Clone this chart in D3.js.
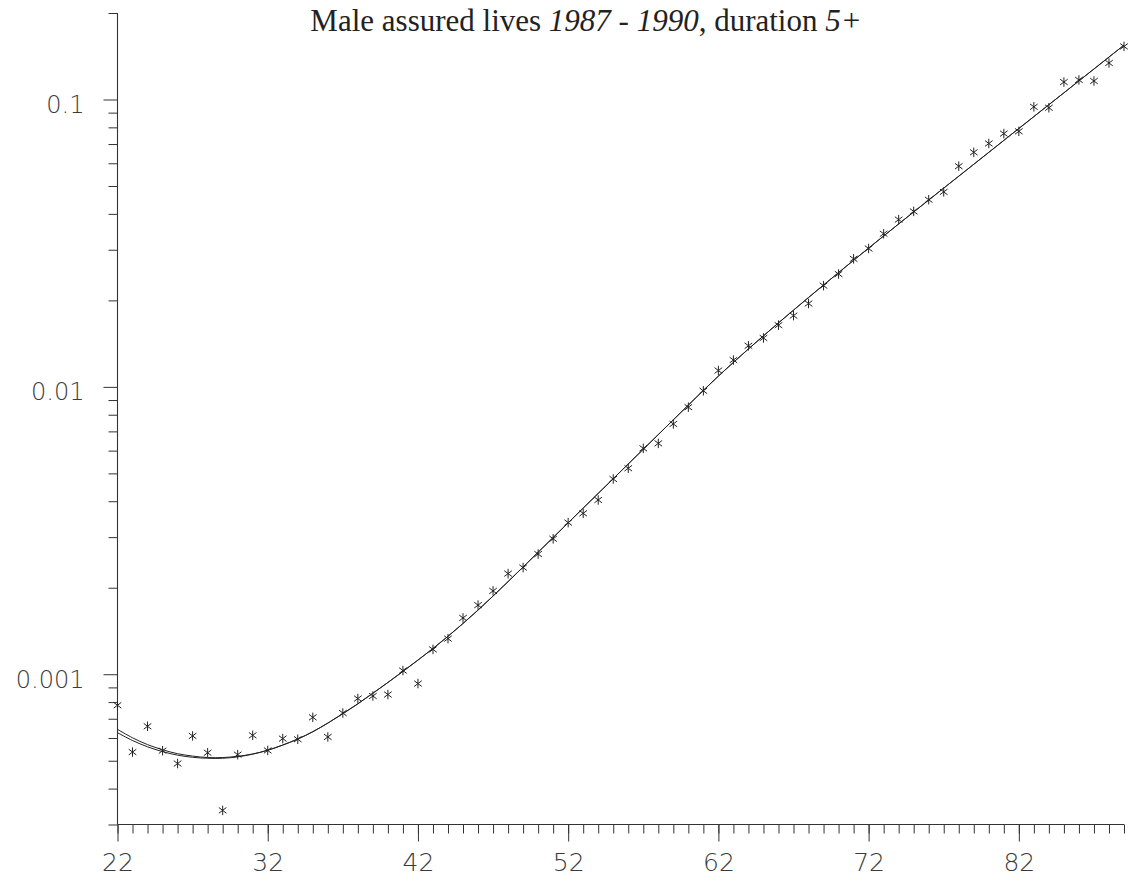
<!DOCTYPE html>
<html>
<head>
<meta charset="utf-8">
<script src="https://cdn.jsdelivr.net/npm/d3@7"></script>
<style>
  html, body { margin: 0; padding: 0; background: #fff; }
  svg { display: block; }
  .tick-label { font-family: "DejaVu Sans", sans-serif; font-weight: 200; fill: #3a3a3a; }
</style>
</head>
<body>
<svg id="chart" width="1136" height="881"></svg>
<script>
// Ages (x categories)
const ages = [22,23,24,25,26,27,28,29,30,31,32,33,34,35,36,37,38,39,40,41,42,43,44,45,46,47,48,49,50,51,52,53,54,55,56,57,58,59,60,61,62,63,64,65,66,67,68,69,70,71,72,73,74,75,76,77,78,79,80,81,82,83,84,85,86,87,88,89];

// Crude mortality rates (asterisks)
const crudeRates = [0.000780,0.000536,0.000659,0.000542,0.000489,0.000610,0.000533,0.000336,0.000525,0.000613,
  0.000543,0.000597,0.000594,0.000708,0.000605,0.000733,0.000823,0.000840,0.000850,0.00103,
  0.000928,0.00122,0.00133,0.00157,0.00174,0.00195,0.00224,0.00235,0.00262,0.00296,
  0.00337,0.00363,0.00404,0.00478,0.00521,0.00611,0.00636,0.00743,0.00850,0.00969,
  0.0114,0.0124,0.0139,0.0148,0.0164,0.0177,0.0195,0.0225,0.0247,0.0279,
  0.0303,0.0341,0.0382,0.0408,0.0448,0.0477,0.0586,0.0655,0.0703,0.0761,
  0.0775,0.0943,0.0936,0.115,0.117,0.116,0.134,0.153];

// Graduated rates, first fit
const graduatedA = [0.000643,0.000601,0.000569,0.000546,0.000529,0.000519,0.000513,0.000513,0.000518,0.000528,
  0.000544,0.000567,0.000595,0.000631,0.000676,0.000729,0.000789,0.000859,0.000936,0.001023,
  0.001120,0.001229,0.001355,0.001502,0.001672,0.001871,0.002101,0.002361,0.002658,0.002991,
  0.003364,0.003785,0.004259,0.004792,0.005391,0.006066,0.006825,0.007679,0.008640,0.009723,
  0.01090,0.01217,0.01355,0.01505,0.01670,0.01849,0.02046,0.02262,0.02498,0.02757,
  0.03040,0.03350,0.03689,0.04061,0.04469,0.04917,0.05409,0.05951,0.06548,0.07205,
  0.07926,0.08721,0.09591,0.1055,0.1161,0.1277,0.1405,0.1546];

// Graduated rates, second fit
const graduatedB = [0.000626,0.000588,0.000559,0.000538,0.000523,0.000514,0.000510,0.000510,0.000516,0.000527,
  0.000544,0.000567,0.000595,0.000631,0.000676,0.000729,0.000789,0.000859,0.000936,0.001023,
  0.001120,0.001229,0.001355,0.001502,0.001672,0.001871,0.002101,0.002361,0.002658,0.002991,
  0.003364,0.003785,0.004259,0.004792,0.005391,0.006066,0.006825,0.007679,0.008640,0.009723,
  0.01090,0.01217,0.01355,0.01505,0.01670,0.01849,0.02046,0.02262,0.02498,0.02757,
  0.03040,0.03350,0.03689,0.04061,0.04469,0.04917,0.05409,0.05951,0.06548,0.07205,
  0.07926,0.08721,0.09591,0.1055,0.1161,0.1277,0.1405,0.1546];

// Axis ticks
const xMajorTicks = [22,32,42,52,62,72,82];
const xTickLabels = ["22","32","42","52","62","72","82"];
const yMajorTicks = [0.001,0.01,0.1];
const yTickLabels = ["0.001","0.01","0.1"];
const yMinorTicks = [0.0003,0.0004,0.0005,0.0006,0.0007,0.0008,0.0009,
  0.002,0.003,0.004,0.005,0.006,0.007,0.008,0.009,
  0.02,0.03,0.04,0.05,0.06,0.07,0.08,0.09,0.2];

const titleParts = [
  {text: "Male assured lives ", italic: false},
  {text: "1987 - 1990", italic: true},
  {text: ", duration ", italic: false},
  {text: "5+", italic: true}
];

const svg = d3.select("#chart");
const plotLeft = 117.5, plotRight = 1124, plotTop = 13, plotBottom = 824.5;

const x = d3.scaleLinear().domain([22, 89]).range([plotLeft, plotRight]);
const y = d3.scaleLog().domain([0.0003, 0.2]).range([plotBottom, plotTop]);

const ink = "#333";

// Title
const title = svg.append("text")
  .attr("x", 586).attr("y", 31)
  .attr("text-anchor", "middle")
  .style("font-family", "'Liberation Serif', 'Times New Roman', serif")
  .style("font-size", "31px")
  .style("fill", "#222");
title.selectAll("tspan").data(titleParts).join("tspan")
  .style("font-style", d => d.italic ? "italic" : "normal")
  .text(d => d.text);

// X axis: minor ticks every year, longer ticks at labelled ages
const xMinor = svg.append("g").attr("transform", `translate(0,${plotBottom})`)
  .call(d3.axisBottom(x).tickValues(ages).tickSize(9).tickFormat(""));
const xMajor = svg.append("g").attr("transform", `translate(0,${plotBottom})`)
  .call(d3.axisBottom(x).tickValues(xMajorTicks).tickSize(17)
    .tickFormat((d, i) => xTickLabels[i]));
xMajor.selectAll("text")
  .attr("class", "tick-label")
  .attr("y", 46).attr("dy", 0)
  .style("font-size", "25px");

// Y axis: minor ticks on the log grid, longer ticks at decades
const yMinor = svg.append("g").attr("transform", `translate(${plotLeft},0)`)
  .call(d3.axisLeft(y).tickValues(yMinorTicks).tickSize(9).tickFormat(""));
const yMajor = svg.append("g").attr("transform", `translate(${plotLeft},0)`)
  .call(d3.axisLeft(y).tickValues(yMajorTicks).tickSize(14).tickPadding(19)
    .tickFormat((d, i) => yTickLabels[i]));
yMajor.selectAll("text")
  .attr("class", "tick-label")
  .attr("dy", 13)
  .style("font-size", "24px");

[xMinor, xMajor, yMinor, yMajor].forEach(g => {
  g.select(".domain").remove();
  g.selectAll(".tick line").attr("stroke", ink).attr("stroke-width", 1);
});

// Axis lines
svg.append("line")
  .attr("x1", x(22)).attr("x2", x(89))
  .attr("y1", plotBottom).attr("y2", plotBottom)
  .attr("stroke", ink).attr("stroke-width", 1.1);
svg.append("line")
  .attr("x1", plotLeft).attr("x2", plotLeft)
  .attr("y1", y(0.2)).attr("y2", y(0.0003))
  .attr("stroke", ink).attr("stroke-width", 1.1);

// Graduated curves
const line = d3.line()
  .x((d, i) => x(ages[i]))
  .y(d => y(d))
  .curve(d3.curveCatmullRom);

[graduatedA, graduatedB].forEach(series => {
  svg.append("path")
    .datum(series)
    .attr("d", line)
    .attr("fill", "none")
    .attr("stroke", "#222")
    .attr("stroke-width", 1);
});

// Asterisk marker
const asterisk = {
  draw(context, size) {
    const r = Math.sqrt(size) / 2;
    const a = 53 * Math.PI / 180;
    const dx = r * Math.sin(a), dy = r * Math.cos(a);
    context.moveTo(0, -r); context.lineTo(0, r);
    context.moveTo(-dx, -dy); context.lineTo(dx, dy);
    context.moveTo(-dx, dy); context.lineTo(dx, -dy);
  }
};

svg.append("g")
  .selectAll("path")
  .data(crudeRates)
  .join("path")
  .attr("transform", (d, i) => `translate(${x(ages[i])},${y(d)})`)
  .attr("d", d3.symbol().type(asterisk).size(90))
  .attr("fill", "none")
  .attr("stroke", "#222")
  .attr("stroke-width", 1);
</script>
</body>
</html>
